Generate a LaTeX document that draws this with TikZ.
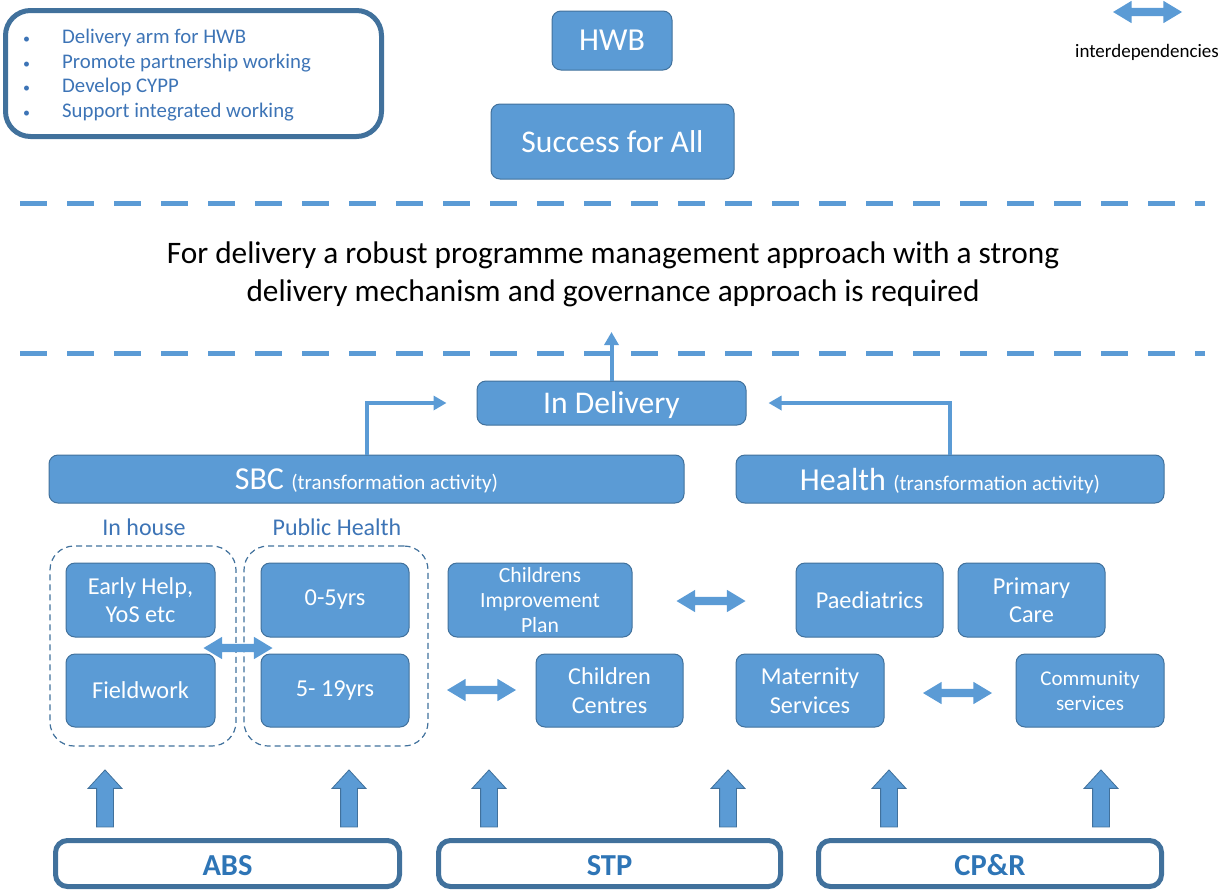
\documentclass[tikz,border=0pt]{standalone}
\usepackage{fontspec}
\setmainfont{Carlito}
\usetikzlibrary{arrows.meta,shapes.arrows}
\definecolor{fillblue}{HTML}{5B9BD5}
\definecolor{edgeblue}{HTML}{41719C}
\definecolor{textblue}{HTML}{3D74B6}
\definecolor{labblue}{HTML}{2E75B6}
\newcommand\fsz[2]{\fontsize{#1}{#2}\selectfont}
\tikzset{
  box/.style={rectangle, rounded corners=9pt, fill=fillblue, draw=edgeblue, line width=1pt,
    text=white, align=center, inner sep=0pt, font=\fsz{24.3}{28.5}},
  outlinebox/.style={rectangle, draw=edgeblue, line width=5pt, inner sep=0pt},
  groupbox/.style={rectangle, rounded corners=24pt, draw=edgeblue, line width=1.2pt, dash pattern=on 6pt off 4pt},
  conn/.style={draw=fillblue, line width=4pt, -{Triangle[length=13pt,width=14pt]}},
  sep/.style={draw=fillblue, line width=5pt, dash pattern=on 27pt off 20pt},
  twoway/.style={double arrow, fill=fillblue, draw=none, minimum height=69pt, inner xsep=0pt, inner ysep=4pt,
    double arrow head extend=7pt, double arrow tip angle=62},
  uparrow/.style={single arrow, fill=fillblue, draw=edgeblue, line width=0.8pt, minimum height=57pt,
    inner xsep=0pt, inner ysep=8pt, single arrow head extend=8.5pt, single arrow tip angle=85,
    rotate=90},
  grouplabel/.style={text=textblue, font=\fsz{24}{28}, inner sep=0pt},
  baselabel/.style={text=labblue, font=\bfseries\fsz{30.5}{34}, inner sep=0pt}
}
\begin{document}
\begin{tikzpicture}[x=1pt,y=-1pt]
\useasboundingbox (0,0) rectangle (1220,894);
% goals box
\node[outlinebox, rounded corners=25pt, minimum width=376pt, minimum height=126pt] (goals) at (193.5,73.5) {};
\node[anchor=west, align=left, inner sep=0pt, text=textblue, font=\fsz{20.8}{24.7}] (goaltext) at (23,75) {%
\makebox[39pt][l]{\fsz{14}{24.7}\textbullet}Delivery arm for HWB\\
\makebox[39pt][l]{\fsz{14}{24.7}\textbullet}Promote partnership working\\
\makebox[39pt][l]{\fsz{14}{24.7}\textbullet}Develop CYPP\\
\makebox[39pt][l]{\fsz{14}{24.7}\textbullet}Support integrated working};
% top boxes
\node[box, minimum width=120pt, minimum height=59pt, font=\fsz{32}{36}] (hwb) at (612,40.5) {HWB};
\node[box, minimum width=243pt, minimum height=75pt, font=\fsz{31.6}{36}] (sfa) at (612.5,141.5) {Success for All};
% legend
\node[twoway] (legarrow) at (1147.5,12) {};
\node[inner sep=0pt, font=\fsz{19}{22}] (legtext) at (1147,52) {interdependencies};
% separators
\coordinate (s1a) at (20,203); \coordinate (s1b) at (1205,203);
\coordinate (s2a) at (20,353); \coordinate (s2b) at (1205,353);
\draw[sep] (s1a) -- (s1b);
\draw[sep] (s2a) -- (s2b);
% central statement
\node[align=center, inner sep=0pt, font=\fsz{31.3}{38}] (statement) at (613,274)
  {For delivery a robust programme management approach with a strong\\delivery mechanism and governance approach is required};
% In Delivery
\node[box, minimum width=269pt, minimum height=44pt, font=\fsz{31.6}{34}, text depth=0pt] (indel) at (611.5,403) {In Delivery};
\coordinate (uptip) at (611.5,332);
\draw[conn] (indel.north) -- (uptip);
% SBC / Health
\node[box, minimum width=635pt, minimum height=48pt, font=\fsz{32}{36}, text depth=0pt] (sbc) at (366.5,479) {SBC {\fsz{21}{22}(transformation activity)}};
\node[box, minimum width=428pt, minimum height=48pt, font=\fsz{32}{36}, text depth=0pt] (health) at (950,479) {Health {\fsz{21}{22}(transformation activity)}};
\draw[conn, shorten >=30pt] (sbc.north) |- (indel.west);
\draw[conn, shorten >=22pt] (health.north) |- (indel.east);
% groups
\node[grouplabel] (inhouse) at (144,527) {In house};
\node[grouplabel] (pubh) at (337,527) {Public Health};
\node[groupbox, minimum width=186pt, minimum height=200pt] (gin) at (143,646) {};
\node[groupbox, minimum width=184pt, minimum height=200pt] (gph) at (336,646) {};
\node[box, minimum width=149pt, minimum height=74pt] (early) at (140.5,600) {Early Help,\\YoS etc};
\node[box, minimum width=148pt, minimum height=74pt] (zero5) at (335,600) {0-5yrs};
\node[box, minimum width=149pt, minimum height=73pt] (field) at (140.5,690.5) {Fieldwork};
\node[box, minimum width=148pt, minimum height=73pt] (five19) at (335,690.5) {5- 19yrs};
\node[twoway] (a1) at (238,648) {};
% middle
\node[box, minimum width=184pt, minimum height=74pt, font=\fsz{21.7}{25}] (cip) at (540,600) {Childrens\\Improvement\\Plan};
\node[twoway] (a2) at (711,601) {};
\node[box, minimum width=147pt, minimum height=73pt] (cc) at (609.5,690.5) {Children\\Centres};
\node[twoway] (a3) at (481.5,690) {};
% health side
\node[box, minimum width=147pt, minimum height=74pt] (paed) at (869.5,600) {Paediatrics};
\node[box, minimum width=147pt, minimum height=74pt] (prim) at (1031.5,600) {Primary\\Care};
\node[box, minimum width=148pt, minimum height=73pt] (mat) at (810,690.5) {Maternity\\Services};
\node[twoway] (a4) at (957.5,693) {};
\node[box, minimum width=148pt, minimum height=73pt, font=\fsz{21}{25}] (comm) at (1090,690.5) {Community\\services};
% up arrows
\foreach \n/\x in {u1/105,u2/349,u3/489,u4/728,u5/889,u6/1101}
  \node[uparrow] (\n) at (\x,803) {};
% base boxes
\node[outlinebox, rounded corners=12pt, minimum width=344pt, minimum height=46pt] (abs) at (227.5,863.5) {};
\node[baselabel, yshift=-2pt] (abslab) at (abs.center) {ABS};
\node[outlinebox, rounded corners=12pt, minimum width=342pt, minimum height=46pt] (stp) at (609.5,863.5) {};
\node[baselabel, yshift=-2pt] (stplab) at (stp.center) {STP};
\node[outlinebox, rounded corners=12pt, minimum width=343pt, minimum height=46pt] (cpr) at (990,863.5) {};
\node[baselabel, yshift=-2pt] (cprlab) at (cpr.center) {CP\&R};
\end{tikzpicture}
\end{document}
